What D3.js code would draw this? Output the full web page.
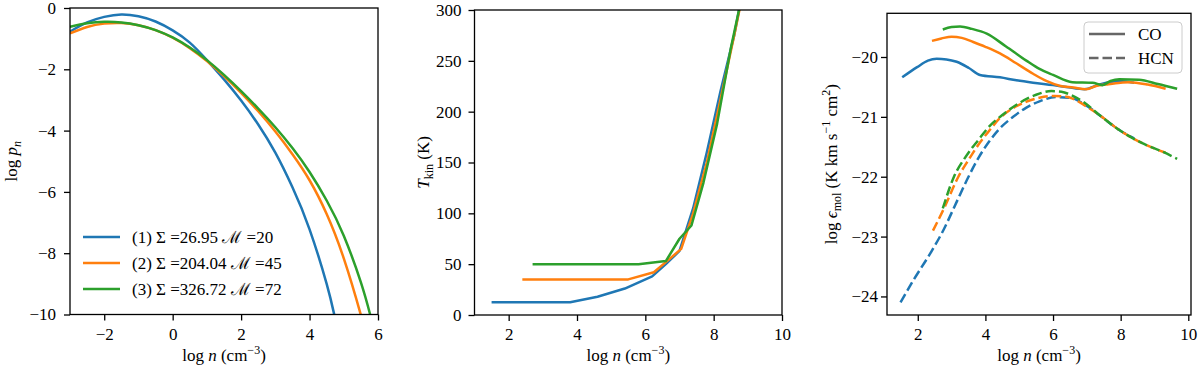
<!DOCTYPE html>
<html>
<head>
<meta charset="utf-8">
<script src="https://cdn.jsdelivr.net/npm/d3@7"></script>
<style>
  body { margin: 0; background: #fff; }
  svg { display: block; font-family: "Liberation Serif", "DejaVu Serif", serif; }
  svg text { font-family: "Liberation Serif", "DejaVu Serif", serif; }
  .tick text { font-size: 17px; fill: #000; }
  .tick line { stroke: #000; stroke-width: 1.3; }
  .axis-label { font-size: 17px; fill: #000; }
  .frame { fill: none; stroke: #000; stroke-width: 1.3; }
</style>
</head>
<body>
<svg id="chart" width="1200" height="371"></svg>
<script>
// ---- data ----
const caseLabels = ["(1) Σ =26.95 ℳ =20", "(2) Σ =204.04 ℳ =45", "(3) Σ =326.72 ℳ =72"];
const caseColors = ["#1f77b4", "#ff7f0e", "#2ca02c"];

// left panel: log p_n vs log n
const pdf1 = [[-3,-0.77],[-2.5,-0.47],[-2,-0.29],[-1.5,-0.21],[-1,-0.27],[-0.5,-0.44],[0,-0.73],[0.5,-1.13],[1,-1.7],[1.5,-2.33],[2,-3.02],[2.5,-3.8],[3,-4.72],[3.5,-5.85],[4,-7.22],[4.5,-9.0],[4.72,-10],[4.9,-10.9]];
const pdf2 = [[-3,-0.83],[-2.5,-0.62],[-2,-0.51],[-1.5,-0.49],[-1,-0.56],[-0.5,-0.72],[0,-0.97],[0.5,-1.31],[1,-1.73],[1.5,-2.22],[2,-2.77],[2.5,-3.37],[3,-4.03],[3.5,-4.77],[4,-5.62],[4.5,-6.72],[5,-8.17],[5.5,-10.02],[5.75,-11.1]];
const pdf3 = [[-3,-0.61],[-2.5,-0.5],[-2,-0.45],[-1.5,-0.47],[-1,-0.56],[-0.5,-0.72],[0,-0.96],[0.5,-1.29],[1,-1.7],[1.5,-2.18],[2,-2.71],[2.5,-3.28],[3,-3.89],[3.5,-4.57],[4,-5.35],[4.5,-6.28],[5,-7.43],[5.5,-8.95],[5.77,-10],[6,-11]];

// middle panel: T_kin vs log n
const tkin1 = [[1.5,12.5],[3.8,12.5],[4.6,18],[5.4,26],[6.2,38],[6.6,50],[7.0,63],[7.4,105],[7.8,160],[8.2,220],[8.6,275],[9.0,345]];
const tkin2 = [[2.4,35],[5.5,35],[6.25,42],[6.6,52],[7.05,65],[7.4,100],[7.8,150],[8.2,212],[8.6,275],[9.0,340]];
const tkin3 = [[2.7,50],[5.8,50],[6.6,53],[7.0,75],[7.35,88],[7.7,130],[8.1,188],[8.5,262],[8.9,325]];

// right panel: log emissivity, CO (solid) and HCN (dashed)
const co1 = [[1.54,-20.34],[1.98,-20.17],[2.3,-20.06],[2.56,-20.03],[2.85,-20.04],[3.15,-20.08],[3.5,-20.18],[3.84,-20.3],[4.43,-20.34],[4.92,-20.39],[5.41,-20.43],[6.0,-20.47],[6.39,-20.5],[6.93,-20.54],[7.37,-20.46],[7.96,-20.4],[8.4,-20.43]];
const co2 = [[2.42,-19.73],[2.7,-19.69],[3.0,-19.66],[3.3,-19.68],[3.64,-19.75],[4.0,-19.83],[4.43,-19.94],[4.9,-20.1],[5.41,-20.28],[5.8,-20.4],[6.19,-20.48],[6.6,-20.51],[6.98,-20.54],[7.3,-20.48],[7.56,-20.46],[8.0,-20.43],[8.25,-20.42],[8.8,-20.46],[9.33,-20.53]];
const co3 = [[2.74,-19.54],[3.0,-19.5],[3.25,-19.49],[3.6,-19.53],[4.04,-19.61],[4.6,-19.82],[5.21,-20.06],[5.6,-20.2],[6.0,-20.3],[6.57,-20.42],[7.17,-20.43],[7.46,-20.47],[7.7,-20.4],[7.96,-20.37],[8.54,-20.38],[9.1,-20.45],[9.67,-20.53]];
const hcn1 = [[1.49,-24.1],[1.88,-23.72],[2.37,-23.28],[2.76,-22.89],[3.15,-22.42],[3.5,-22.0],[3.8,-21.68],[4.1,-21.42],[4.45,-21.18],[4.82,-21.0],[5.2,-20.85],[5.6,-20.74],[6.1,-20.67],[6.5,-20.68],[6.9,-20.78],[7.37,-20.97],[7.96,-21.22],[8.4,-21.36]];
const hcn2 = [[2.45,-22.9],[2.8,-22.5],[3.2,-22.0],[3.5,-21.72],[3.85,-21.42],[4.1,-21.24],[4.43,-21.02],[4.8,-20.86],[5.2,-20.75],[5.6,-20.68],[6.05,-20.65],[6.35,-20.66],[6.6,-20.7],[7.0,-20.83],[7.37,-20.97],[7.96,-21.22],[8.64,-21.44],[9.33,-21.6]];
const hcn3 = [[2.74,-22.53],[3.07,-22.0],[3.4,-21.68],[3.8,-21.38],[4.13,-21.15],[4.5,-20.97],[5.0,-20.77],[5.5,-20.63],[5.95,-20.57],[6.25,-20.58],[6.55,-20.64],[6.9,-20.75],[7.37,-20.97],[7.96,-21.22],[8.64,-21.44],[9.23,-21.58],[9.67,-21.7]];

const xTicksPdf = [-2, 0, 2, 4, 6];
const yTicksPdf = [0, -2, -4, -6, -8, -10];
const xTicksN = [2, 4, 6, 8, 10];
const yTicksT = [0, 50, 100, 150, 200, 250, 300];
const yTicksEps = [-20, -21, -22, -23, -24];
const molLabels = ["CO", "HCN"];

// ---- helpers ----
const svg = d3.select("#chart");
const fmt = d3.format("d");

function richText(sel, parts) {
  // parts: [text, kind] where kind in "", "i", "sup", "sub", "isub"
  let shift = 0;
  parts.forEach(([t, kind]) => {
    const ts = sel.append("tspan").text(t);
    let target = 0;
    if (kind === "i" || kind === "isub") ts.style("font-style", "italic");
    if (kind === "sup") { target = -7; ts.style("font-size", "12px"); }
    if (kind === "sub" || kind === "isub") { target = 4; ts.style("font-size", "12px"); }
    if (target !== shift) { ts.attr("dy", target - shift); shift = target; }
  });
}

function makePanel(id, box, xDom, yDom, xTicks, yTicks, yPad) {
  const x = d3.scaleLinear().domain(xDom).range([box.left, box.right]);
  const y = d3.scaleLinear().domain(yDom).range([box.bottom, box.top]);
  svg.append("clipPath").attr("id", id)
    .append("rect").attr("x", box.left).attr("y", box.top)
    .attr("width", box.right - box.left).attr("height", box.bottom - box.top);
  svg.append("g").attr("transform", `translate(0,${box.bottom})`)
    .call(d3.axisBottom(x).tickValues(xTicks).tickFormat(fmt).tickSize(6).tickPadding(7))
    .call(g => g.select(".domain").remove());
  svg.append("g").attr("transform", `translate(${box.left},0)`)
    .call(d3.axisLeft(y).tickValues(yTicks).tickFormat(fmt).tickSize(6).tickPadding(yPad))
    .call(g => g.select(".domain").remove());
  const plot = svg.append("g").attr("clip-path", `url(#${id})`);
  return { x, y, plot, box };
}

function drawFrame(p) {
  svg.append("rect").attr("class", "frame")
    .attr("x", p.box.left).attr("y", p.box.top)
    .attr("width", p.box.right - p.box.left).attr("height", p.box.bottom - p.box.top);
}

function drawLine(p, data, color, curve, dash) {
  const line = d3.line().x(d => p.x(d[0])).y(d => p.y(d[1])).curve(curve);
  p.plot.append("path").datum(data)
    .attr("d", line).attr("fill", "none")
    .attr("stroke", color).attr("stroke-width", 2.5)
    .attr("stroke-linejoin", "round")
    .attr("stroke-dasharray", dash || null);
}

function xLabel(p, yPos) {
  const t = svg.append("text").attr("class", "axis-label")
    .attr("x", (p.box.left + p.box.right) / 2).attr("y", yPos).attr("text-anchor", "middle");
  richText(t, [["log ", ""], ["n", "i"], [" (cm", ""], ["−3", "sup"], [")", ""]]);
}

function yLabel(p, xPos, parts) {
  const t = svg.append("text").attr("class", "axis-label")
    .attr("transform", `translate(${xPos},${(p.box.top + p.box.bottom) / 2}) rotate(-90)`)
    .attr("text-anchor", "middle");
  richText(t, parts);
}

// ---- panel 1 ----
const p1 = makePanel("clip1", { left: 70, right: 378, top: 8, bottom: 314.5 }, [-3, 6], [-10, 0], xTicksPdf, yTicksPdf, 8);
[pdf1, pdf2, pdf3].forEach((d, i) => drawLine(p1, d, caseColors[i], d3.curveNatural));
drawFrame(p1);
xLabel(p1, 361);
yLabel(p1, 17, [["log ", ""], ["p", "i"], ["n", "isub"]]);

caseLabels.forEach((lab, i) => {
  const yy = 237 + i * 26;
  svg.append("line").attr("x1", 83).attr("x2", 120).attr("y1", yy).attr("y2", yy)
    .attr("stroke", caseColors[i]).attr("stroke-width", 2.5);
  svg.append("text").attr("x", 132).attr("y", yy + 6)
    .style("font-size", "17px").text(lab);
});

// ---- panel 2 ----
const p2 = makePanel("clip2", { left: 474.5, right: 782, top: 10, bottom: 315 }, [1, 10], [0, 300], xTicksN, yTicksT, 7);
[tkin1, tkin2, tkin3].forEach((d, i) => drawLine(p2, d, caseColors[i], d3.curveLinear));
drawFrame(p2);
xLabel(p2, 361);
yLabel(p2, 429, [["T", "i"], ["kin", "sub"], [" (K)", ""]]);

// ---- panel 3 ----
const p3 = makePanel("clip3", { left: 887, right: 1191, top: 13.3, bottom: 315 }, [1.09, 10.08], [-24.31, -19.27], xTicksN, yTicksEps, 3);
[hcn1, hcn2, hcn3].forEach((d, i) => drawLine(p3, d, caseColors[i], d3.curveMonotoneX, "9.5,4"));
[co1, co2, co3].forEach((d, i) => drawLine(p3, d, caseColors[i], d3.curveMonotoneX));
drawFrame(p3);
xLabel(p3, 361);
yLabel(p3, 837, [["log ", ""], ["ϵ", "i"], ["mol", "sub"], [" (K km s", ""], ["−1", "sup"], [" cm", ""], ["2", "sup"], [")", ""]]);

const leg = svg.append("g");
leg.append("rect").attr("x", 1084).attr("y", 22).attr("width", 98).attr("height", 51).attr("rx", 4)
  .attr("fill", "#fff").attr("fill-opacity", 0.8).attr("stroke", "#cccccc").attr("stroke-width", 1);
molLabels.forEach((lab, i) => {
  const yy = 34 + i * 24;
  leg.append("line").attr("x1", 1089).attr("x2", 1125).attr("y1", yy).attr("y2", yy)
    .attr("stroke", "#666").attr("stroke-width", 2.5)
    .attr("stroke-dasharray", i === 1 ? "9.5,4" : null);
  leg.append("text").attr("x", 1138).attr("y", yy + 6).style("font-size", "17px").text(lab);
});
</script>
</body>
</html>
